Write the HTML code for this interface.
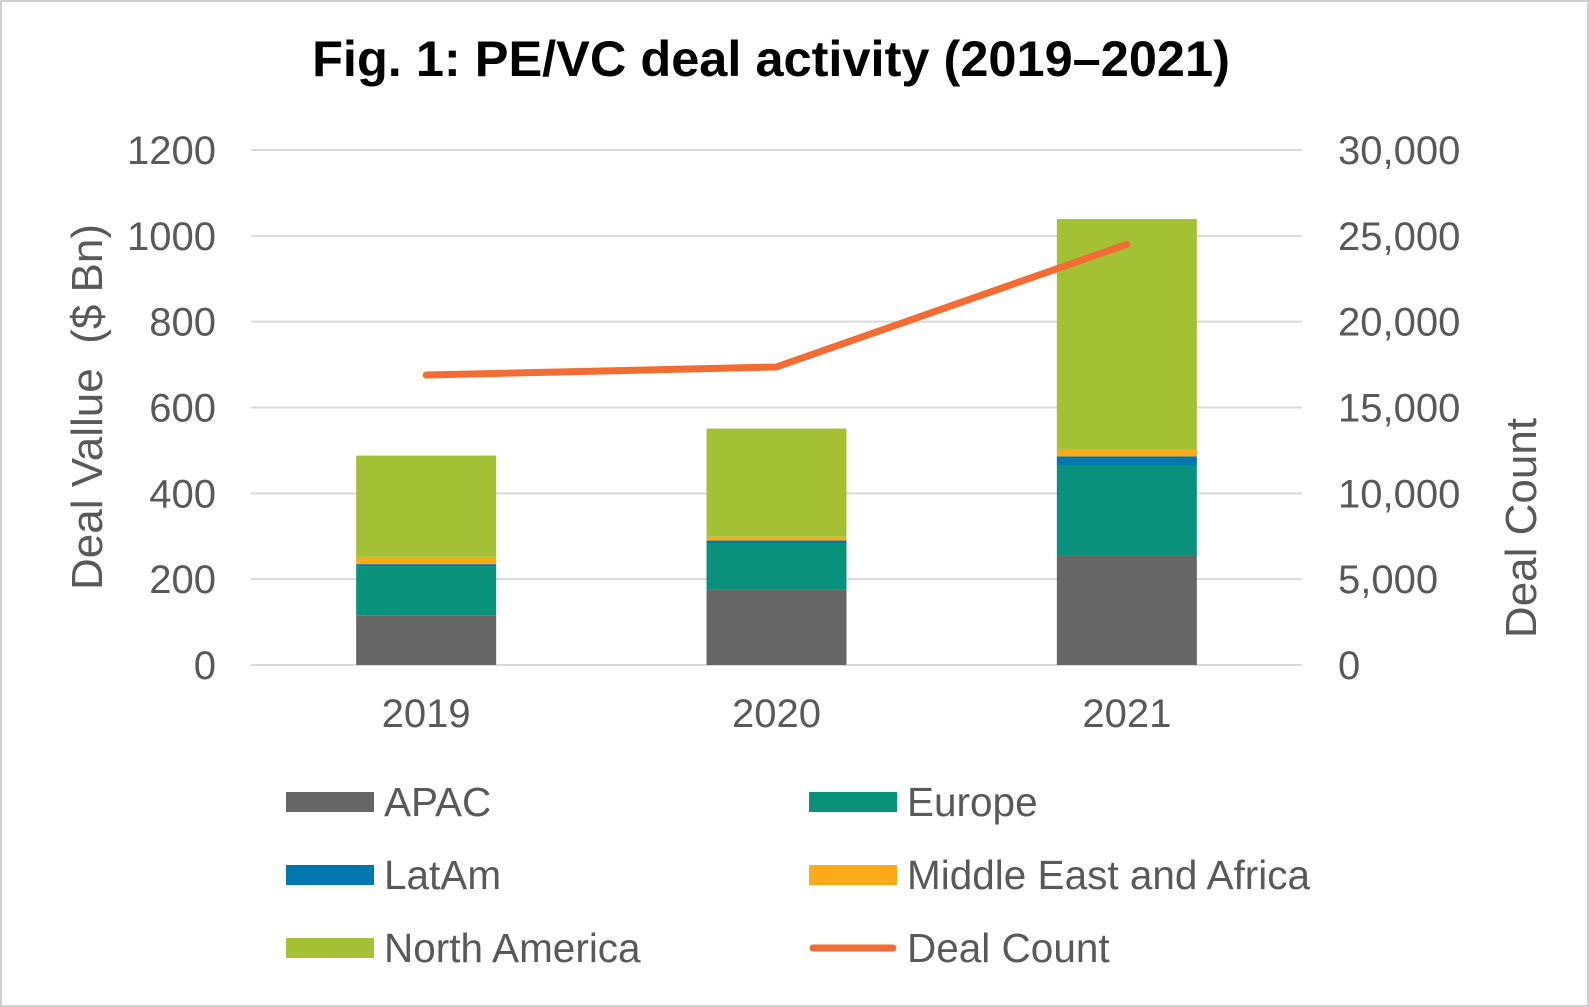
<!DOCTYPE html>
<html><head><meta charset="utf-8"><style>
body{margin:0;background:#fff}
svg{display:block;font-family:"Liberation Sans",sans-serif}
</style></head><body>
<svg id="chart" width="1589" height="1007">
<rect x="1" y="1" width="1587" height="1005" fill="#fff" stroke="#d0d0d0" stroke-width="2"/>
<text x="771" y="76" text-anchor="middle" font-size="50.5" font-weight="bold" fill="#000">Fig. 1: PE/VC deal activity (2019–2021)</text>
<g id="grid"></g><g id="bars"></g><g id="line"></g><g id="axes"></g>
<text transform="translate(102,407) rotate(-90)" text-anchor="middle" font-size="44" fill="#595959" xml:space="preserve">Deal Vallue  ($ Bn)</text>
<text transform="translate(1536,528) rotate(-90)" text-anchor="middle" font-size="44" fill="#595959">Deal Count</text>
<g id="legend"></g>
</svg>
<script>
const categories=["2019","2020","2021"];
const seriesNames=["APAC","Europe","LatAm","Middle East and Africa","North America"];
const apac=[116,175,255];
const europe=[114,108,211];
const latam=[5,7,20];
const mea=[17,9,16];
const northAmerica=[236,252,537];
const dealCount=[16890,17362,24508];
const leftTicks=[0,200,400,600,800,1000,1200];
const rightTicks=[0,5000,10000,15000,20000,25000,30000];
const colors=["#666666","#0a917c","#0077ae","#fbab18","#a4c034"];
const NS="http://www.w3.org/2000/svg";
const X0=251,X1=1302,Y0=665,Y1=150;
const yL=v=>Y0-(v/1200)*(Y0-Y1);
const yR=v=>Y0-(v/30000)*(Y0-Y1);
const xC=i=>X0+(i+0.5)*(X1-X0)/categories.length;
const BW=140;
function mk(t,a,p){const e=document.createElementNS(NS,t);for(const k in a)e.setAttribute(k,a[k]);document.getElementById(p).appendChild(e);return e;}
leftTicks.forEach((t,i)=>{
 const l=mk("line",{x1:X0,x2:X1,y1:yL(t),y2:yL(t),stroke:"#d9d9d9","stroke-width":2},"grid");
 
 
 const tx=mk("text",{x:216,y:yL(t)+14,"text-anchor":"end","font-size":40,fill:"#595959"},"axes");tx.textContent=t;
 
 
});
rightTicks.forEach(t=>{
 const tx=mk("text",{x:1338,y:yR(t)+14,"font-size":40,fill:"#595959"},"axes");tx.textContent=t.toLocaleString("en-US");
 
 
});
categories.forEach((c,i)=>{
 const tx=mk("text",{x:xC(i),y:727,"text-anchor":"middle","font-size":40,fill:"#595959"},"axes");tx.textContent=c;
 
 
});
const series=[apac,europe,latam,mea,northAmerica];
categories.forEach((c,i)=>{
 let base=0;
 series.forEach((s,j)=>{
  const top=base+s[i];
  const r=mk("rect",{x:xC(i)-BW/2,y:yL(top),width:BW,height:yL(base)-yL(top),fill:colors[j]},"bars");
  
  
  base=top;
 });
});
const pts=dealCount.map((v,i)=>xC(i)+","+yR(v)).join(" ");
const pl=mk("polyline",{points:pts,fill:"none",stroke:"#f26c33","stroke-width":7,"stroke-linejoin":"round","stroke-linecap":"round"},"line");


const leg=[[286,802,0],[809,802,1],[286,875,2],[809,875,3],[286,948,4],[809,948,5]];
const legNames=seriesNames.concat(["Deal Count"]);
leg.forEach(([x,y,k])=>{
 let sw;
 if(k<5){sw=mk("rect",{x:x,y:y-10,width:88,height:20,fill:colors[k]},"legend");}
 else{sw=mk("line",{x1:x+4,x2:x+84,y1:y,y2:y,stroke:"#f26c33","stroke-width":7,"stroke-linecap":"round"},"legend");}
 
 
 const t=mk("text",{x:x+98,y:y+14,"font-size":40.5,fill:"#595959"},"legend");t.textContent=legNames[k];
 
 
});
</script>
</body></html>
